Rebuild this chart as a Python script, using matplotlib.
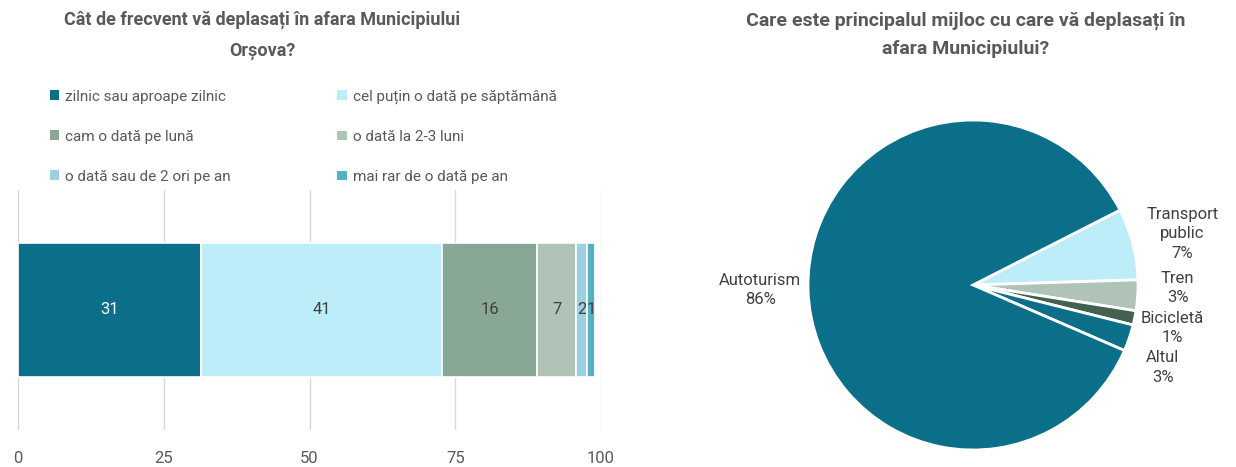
import matplotlib.pyplot as plt
from matplotlib.patches import Patch
from matplotlib import font_manager

# fonts: narrow sans like the original, fall back to DejaVu for odd glyphs
names = set(f.name for f in font_manager.fontManager.ttflist)
base = 'Liberation Sans Narrow' if 'Liberation Sans Narrow' in names else 'Roboto'
plt.rcParams['font.family'] = [base, 'DejaVu Sans']

#==================================================================================================#
# data

freq_labels = ['zilnic sau aproape zilnic', 'cel puțin o dată pe săptămână',
               'cam o dată pe lună', 'o dată la 2-3 luni',
               'o dată sau de 2 ori pe an', 'mai rar de o dată pe an']
freq_values = [31.4, 41.3, 16.4, 6.6, 1.9, 1.4]
freq_colors = ['#0B6F8A', '#BCEDF9', '#88A895', '#AFC4B7', '#9BD2DE', '#53B2C2']
freq_text = ['white', '#404040', '#404040', '#404040', '#404040', '#404040']
x_ticks = [0, 25, 50, 75, 100]

mode_labels = ['Transport\npublic', 'Tren', 'Bicicletă', 'Altul', 'Autoturism']
mode_values = [7, 3, 1.4, 2.6, 86]
mode_colors = ['#BCEDF9', '#AFC4B7', '#44604F', '#0B6F8A', '#0B6F8A']
# label centres, in pie radii from the centre (labels were moved apart by hand)
mode_label_pos = [(1.27, 0.31), (1.24, -0.02), (1.21, -0.26), (1.15, -0.50), (-1.29, -0.03)]

gray = '#595959'
W, H = 1236, 467

#==================================================================================================#

fig = plt.figure(figsize=(W / 100, H / 100), dpi=100)

# left: stacked bar
ax = fig.add_axes([18 / W, 1 - 430 / H, 583 / W, 240 / H])
left = 0
for v, c, tc in zip(freq_values, freq_colors, freq_text):
    bars = ax.barh(0, v, left=left, height=0.56, color=c, edgecolor='white', linewidth=1.2, zorder=3)
    ax.bar_label(bars, labels=['%.0f' % v], label_type='center', color=tc, fontsize=12)
    left += v
ax.set_xlim(0, 100)
ax.set_ylim(-0.5, 0.5)
ax.set_xticks(x_ticks)
ax.set_yticks([])
ax.grid(axis='x', color='#D9D9D9', linewidth=1, zorder=0)
for s in ax.spines.values():
    s.set_visible(False)
ax.tick_params(axis='x', length=0, labelsize=12, labelcolor=gray, pad=15)

fig.text(262 / W, 1 - 35 / H, 'Cât de frecvent vă deplasați în afara Municipiului\nOrșova?',
         ha='center', va='center', fontsize=13, fontweight='bold', color=gray, linespacing=1.9)

handles = [Patch(facecolor=c) for c in freq_colors]
order = [0, 2, 4, 1, 3, 5]
fig.legend([handles[i] for i in order], [freq_labels[i] for i in order],
           loc='upper left', bbox_to_anchor=(42 / W, 1 - 82 / H), ncol=2, frameon=False,
           fontsize=11, labelcolor=gray, handlelength=0.6, handleheight=0.6,
           handletextpad=0.4, columnspacing=7.0, labelspacing=1.7, borderpad=0)

#==================================================================================================#
# right: pie
r = 165.0
cx, cy = 973, 285
ax2 = fig.add_axes([700 / W, 0, 536 / W, (H - 100) / H])
wedges, texts = ax2.pie(mode_values, colors=mode_colors, startangle=27, counterclock=False,
                        wedgeprops=dict(edgecolor='white', linewidth=2))
for lab, v, (px, py) in zip(mode_labels, mode_values, mode_label_pos):
    ax2.text(px, py, '%s\n%.0f%%' % (lab, v), ha='center', va='center', fontsize=12,
             color='#404040', linespacing=1.35)
ax2.set_aspect('auto')
ax2.set_xlim((700 - cx) / r, (W - cx) / r)
ax2.set_ylim((cy - H) / r, (cy - 100) / r)

fig.text(966 / W, 1 - 35 / H, 'Care este principalul mijloc cu care vă deplasați în\nafara Municipiului?',
         ha='center', va='center', fontsize=14, fontweight='bold', color=gray, linespacing=1.75)

plt.savefig('out.png', dpi=100)
